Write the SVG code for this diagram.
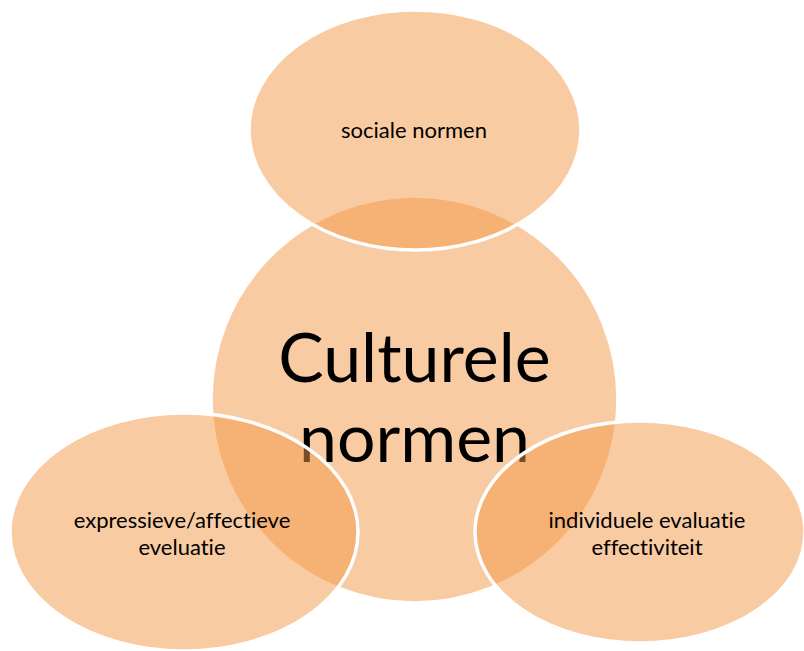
<svg xmlns="http://www.w3.org/2000/svg" width="804" height="651" viewBox="0 0 804 651">
<style>
.shape{fill:#F39747;fill-opacity:0.5;stroke:#FFFFFF;stroke-width:3.5}
.lbl{font-family:Lato,"Open Sans","Liberation Sans",sans-serif;fill:#000000;text-anchor:middle;font-variant-ligatures:none}
.small{font-size:22px}
.big{font-size:68px}
</style>
<rect width="804" height="651" fill="#FFFFFF"/>
<g id="culturele-normen">
<circle class="shape" cx="414.5" cy="399.5" r="203.5"/>
<text class="lbl big" x="414.5" y="382">Culturele</text>
<text class="lbl big" x="414.5" y="462">normen</text>
</g>
<g id="sociale-normen">
<ellipse class="shape" cx="415" cy="130" rx="166" ry="120"/>
<text class="lbl small" x="414" y="138">sociale normen</text>
</g>
<g id="expressieve-evaluatie">
<ellipse class="shape" cx="184" cy="532" rx="174" ry="119"/>
<text class="lbl small" x="182" y="528">expressieve/affectieve</text>
<text class="lbl small" x="182" y="555">eveluatie</text>
</g>
<g id="individuele-evaluatie">
<ellipse class="shape" cx="640" cy="532" rx="165" ry="111"/>
<text class="lbl small" x="647" y="528">individuele evaluatie</text>
<text class="lbl small" x="647" y="555">effectiviteit</text>
</g>
</svg>
